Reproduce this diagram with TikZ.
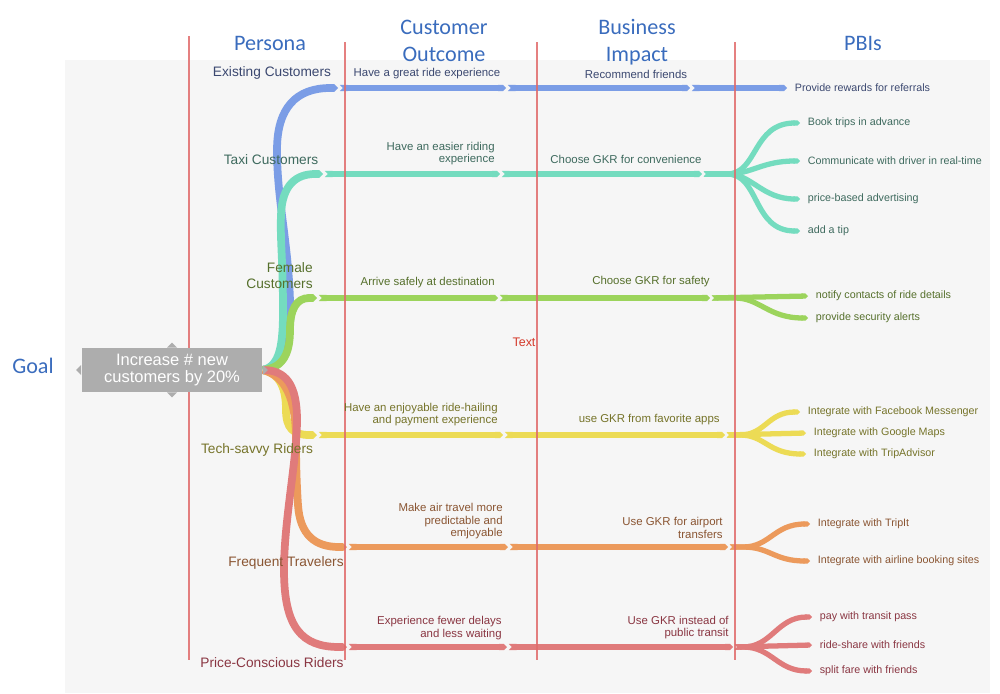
\documentclass[tikz,border=0pt]{standalone}
\usepackage{fontspec}
\setmainfont{Liberation Sans}
\newfontfamily\headfont{Carlito}
\usetikzlibrary{arrows.meta}

\pgfdeclarelayer{panel}
\pgfdeclarelayer{branches}
\pgfsetlayers{panel,branches,main}

\definecolor{HeadBlue}{HTML}{3A6CBD}
\definecolor{DivRed}{HTML}{E06A6A}
\definecolor{TextRed}{HTML}{D43A2A}
\definecolor{PanelGray}{HTML}{F6F6F6}
\definecolor{GoalGray}{HTML}{ADADAD}
\definecolor{BlueBr}{HTML}{7B9DE6}
\definecolor{TealBr}{HTML}{74DCBF}
\definecolor{GreenBr}{HTML}{9CD45C}
\definecolor{YellowBr}{HTML}{ECDB55}
\definecolor{OrangeBr}{HTML}{EC9A5C}
\definecolor{RedBr}{HTML}{E07B7B}
\definecolor{BlueTx}{HTML}{3B4870}
\definecolor{TealTx}{HTML}{3E6A5E}
\definecolor{GreenTx}{HTML}{56702C}
\definecolor{YellowTx}{HTML}{76742A}
\definecolor{OrangeTx}{HTML}{8A5532}
\definecolor{RedTx}{HTML}{8A3642}

\begin{document}
\begin{tikzpicture}[x=0.02cm,y=-0.02cm,
	header/.style={text=HeadBlue,font=\headfont\fontsize{12.6}{15.5}\selectfont,align=center,inner sep=0pt},
	persona/.style={font=\fontsize{7.8}{8.7}\selectfont,inner sep=0pt},
	outcome/.style={font=\fontsize{6.5}{7.1}\selectfont,inner sep=0pt},
	pbi/.style={font=\fontsize{6.1}{7}\selectfont,inner xsep=0.15cm,inner ysep=0pt,anchor=west},
	trunk/.style={line width=4.4pt,-{Triangle Cap}},
	ribbon/.style={line width=3.6pt,shorten <=1pt,{Triangle Cap[reversed]}-{Triangle Cap}},
	twig/.style={line width=3pt,shorten <=1pt,{Triangle Cap[reversed]}-{Triangle Cap}},
	divider/.style={draw=DivRed,line width=0.6pt,opacity=0.85}]

		\useasboundingbox (0,0) rectangle (1000,693);
		\begin{pgfonlayer}{panel}
			\fill[PanelGray] (65,60) rectangle (990,693);
		\end{pgfonlayer}

		\node[header] (PersonaHd) at (270,43) {Persona};
		\node[header] (OutcomeHd) at (444,41) {Customer\\Outcome};
		\node[header] (ImpactHd) at (637,42) {Business\\Impact};
		\node[header] (PbiHd) at (863,43) {PBIs};
		\node[header] (GoalHd) at (33,366) {Goal};

		\node[fill=GoalGray,text=white,font=\fontsize{9.4}{10}\selectfont,align=center,minimum width=3.62cm,minimum height=0.88cm,inner sep=0pt] (Goal) at (172,370) {Increase \# new\\customers by 20\%};
		\fill[GoalGray] (Goal.west) ++(0,-5) -- ++(-5,5) -- ++(5,5) -- cycle;
		\fill[GoalGray] (Goal.north) ++(-5,0) -- ++(5,-5) -- ++(5,5) -- cycle;
		\fill[GoalGray] (Goal.south) ++(-5,0) -- ++(5,5) -- ++(5,-5) -- cycle;
		\fill[GoalGray] (Goal.east) ++(0,-5) -- ++(5,5) -- ++(-5,5) -- cycle;

		\node[persona,text=BlueTx] (ExistCust) at (272,73) {Existing Customers};
		\node[persona,text=TealTx] (TaxiCust) at (271,160) {Taxi Customers};
		\node[persona,text=GreenTx,align=right,anchor=east] (FemaleCust) at (313,275.5) {Female\\Customers};
		\node[persona,text=YellowTx] (TechRiders) at (257,450) {Tech-savvy Riders};
		\node[persona,text=OrangeTx] (FreqTravel) at (286,563) {Frequent Travelers};
		\node[persona,text=RedTx] (PriceRiders) at (272,663) {Price-Conscious Riders};

		\node[outcome,text=BlueTx] (GreatRide) at (427,74) {Have a great ride experience};
		\node[outcome,text=TealTx,align=right,anchor=east] (EasierRide) at (495,153.5) {Have an easier riding\\experience};
		\node[outcome,text=GreenTx,anchor=east] (ArriveSafe) at (495,283) {Arrive safely at destination};
		\node[outcome,text=YellowTx,align=right,anchor=east] (EnjoyRide) at (498,414.5) {Have an enjoyable ride-hailing\\and payment experience};
		\node[outcome,text=OrangeTx,align=right,anchor=east] (AirTravel) at (503,521.5) {Make air travel more\\predictable and\\emjoyable};
		\node[outcome,text=RedTx,align=right,anchor=east] (FewerDelays) at (502,628) {Experience fewer delays\\and less waiting};

		\node[outcome,text=BlueTx] (RecFriends) at (636,74) {Recommend friends};
		\node[outcome,text=TealTx] (GkrConv) at (626,159) {Choose GKR for convenience};
		\node[outcome,text=GreenTx] (GkrSafety) at (651,282) {Choose GKR for safety};
		\node[outcome,text=YellowTx,anchor=east] (GkrApps) at (720,420) {use GKR from favorite apps};
		\node[outcome,text=OrangeTx,align=right,anchor=east] (GkrAirport) at (723,528) {Use GKR for airport\\transfers};
		\node[outcome,text=RedTx,align=right,anchor=east] (GkrTransit) at (729,627.5) {Use GKR instead of\\public transit};

		\node[text=TextRed,font=\fontsize{7.1}{8}\selectfont,inner sep=0pt] (TextMark) at (524,342) {Text};

		\node[pbi,text=BlueTx] (Rewards) at (787,88) {Provide rewards for referrals};
		\node[pbi,text=TealTx] (BookTrips) at (800,123) {Book trips in advance};
		\node[pbi,text=TealTx] (Communicate) at (800,161) {Communicate with driver in real-time};
		\node[pbi,text=TealTx] (PriceAds) at (800,199) {price-based advertising};
		\node[pbi,text=TealTx] (AddTip) at (800,231) {add a tip};
		\node[pbi,text=GreenTx] (NotifyContacts) at (808,296) {notify contacts of ride details};
		\node[pbi,text=GreenTx] (SecAlerts) at (808,318) {provide security alerts};
		\node[pbi,text=YellowTx] (Facebook) at (800,412) {Integrate with Facebook Messenger};
		\node[pbi,text=YellowTx] (GoogleMaps) at (806,433) {Integrate with Google Maps};
		\node[pbi,text=YellowTx] (TripAdvisor) at (806,454) {Integrate with TripAdvisor};
		\node[pbi,text=OrangeTx] (TripIt) at (810,524) {Integrate with TripIt};
		\node[pbi,text=OrangeTx] (Airline) at (810,561) {Integrate with airline booking sites};
		\node[pbi,text=RedTx] (TransitPass) at (812,617) {pay with transit pass};
		\node[pbi,text=RedTx] (RideShare) at (812,645) {ride-share with friends};
		\node[pbi,text=RedTx] (SplitFare) at (812,671) {split fare with friends};

		\coordinate (BlueA) at (338,88);   \coordinate (BlueB) at (506,88);   \coordinate (BlueC) at (690,88);
		\coordinate (TealA) at (323,174);  \coordinate (TealB) at (500,174);  \coordinate (TealC) at (702,174);
		\coordinate (GreenA) at (317,298); \coordinate (GreenB) at (498,298); \coordinate (GreenC) at (710,298);
		\coordinate (YellowA) at (317,435); \coordinate (YellowB) at (503,435); \coordinate (YellowC) at (725,435);
		\coordinate (OrangeA) at (347,547); \coordinate (OrangeB) at (508,547); \coordinate (OrangeC) at (728,547);
		\coordinate (RedA) at (347,647);   \coordinate (RedB) at (507,647);   \coordinate (RedC) at (733,647);

		\begin{pgfonlayer}{branches}
		%% trunks out of the goal
		\draw[trunk,BlueBr] (Goal.east) .. controls (285,366) and (292,340) .. (290,300) .. controls (288,240) and (277,200) .. (277,150) .. controls (277,108) and (296,88) .. (BlueA);
		\draw[trunk,TealBr] (Goal.east) .. controls (280,366) and (283,345) .. (283,310) .. controls (283,260) and (280,240) .. (281,215) .. controls (282,185) and (296,174) .. (TealA);
		\draw[trunk,GreenBr] (Goal.east) .. controls (284,368) and (290,352) .. (290,330) .. controls (290,310) and (296,298) .. (GreenA);
		\draw[trunk,YellowBr] (Goal.east) .. controls (281,374) and (286,390) .. (286,410) .. controls (286,428) and (293,435) .. (YellowA);
		\draw[trunk,OrangeBr] (Goal.east) .. controls (286,376) and (296,400) .. (296,440) .. controls (296,470) and (297,490) .. (298,505) .. controls (300,535) and (315,547) .. (OrangeA);
		\draw[trunk,RedBr] (Goal.east) .. controls (286,370) and (297,385) .. (297,420) .. controls (297,460) and (284,520) .. (284,570) .. controls (284,628) and (302,647) .. (RedA);

		\draw[ribbon,BlueBr] (BlueA) -- (BlueB);
		\draw[ribbon,BlueBr] (BlueB) -- (BlueC);
		\draw[ribbon,BlueBr] (BlueC) -- (Rewards.west);

		\draw[ribbon,TealBr] (TealA) -- (TealB);
		\draw[ribbon,TealBr] (TealB) -- (TealC);
		\draw[twig,TealBr] (TealC) -- ++(25,0) .. controls (758,174) and (752,123) .. (BookTrips.west);
		\draw[twig,TealBr] (TealC) -- ++(25,0) .. controls (752,174) and (762,161) .. (Communicate.west);
		\draw[twig,TealBr] (TealC) -- ++(25,0) .. controls (752,174) and (762,199) .. (PriceAds.west);
		\draw[twig,TealBr] (TealC) -- ++(25,0) .. controls (760,174) and (752,231) .. (AddTip.west);

		\draw[ribbon,GreenBr] (GreenA) -- (GreenB);
		\draw[ribbon,GreenBr] (GreenB) -- (GreenC);
		\draw[twig,GreenBr] (GreenC) -- (NotifyContacts.west);
		\draw[twig,GreenBr] (GreenC) -- ++(25,0) .. controls (760,298) and (768,318) .. (SecAlerts.west);

		\draw[ribbon,YellowBr] (YellowA) -- (YellowB);
		\draw[ribbon,YellowBr] (YellowB) -- (YellowC);
		\draw[twig,YellowBr] (YellowC) -- ++(15,0) .. controls (765,435) and (768,412) .. (Facebook.west);
		\draw[twig,YellowBr] (YellowC) -- (GoogleMaps.west);
		\draw[twig,YellowBr] (YellowC) -- ++(15,0) .. controls (765,435) and (768,454) .. (TripAdvisor.west);

		\draw[ribbon,OrangeBr] (OrangeA) -- (OrangeB);
		\draw[ribbon,OrangeBr] (OrangeB) -- (OrangeC);
		\draw[twig,OrangeBr] (OrangeC) -- ++(15,0) .. controls (770,547) and (774,524) .. (TripIt.west);
		\draw[twig,OrangeBr] (OrangeC) -- ++(15,0) .. controls (770,547) and (774,561) .. (Airline.west);

		\draw[ribbon,RedBr] (RedA) -- (RedB);
		\draw[ribbon,RedBr] (RedB) -- (RedC);
		\draw[twig,RedBr] (RedC) -- ++(10,0) .. controls (772,647) and (777,617) .. (TransitPass.west);
		\draw[twig,RedBr] (RedC) -- (RideShare.west);
		\draw[twig,RedBr] (RedC) -- ++(10,0) .. controls (772,647) and (777,671) .. (SplitFare.west);

		%% column dividers, under the goal box
		\draw[divider] (189,36) -- (189,660);
		\draw[divider] (345,42) -- (345,660);
		\draw[divider] (537,42) -- (537,660);
		\draw[divider] (735,42) -- (735,660);
		\end{pgfonlayer}
	\end{tikzpicture}
\end{document}
